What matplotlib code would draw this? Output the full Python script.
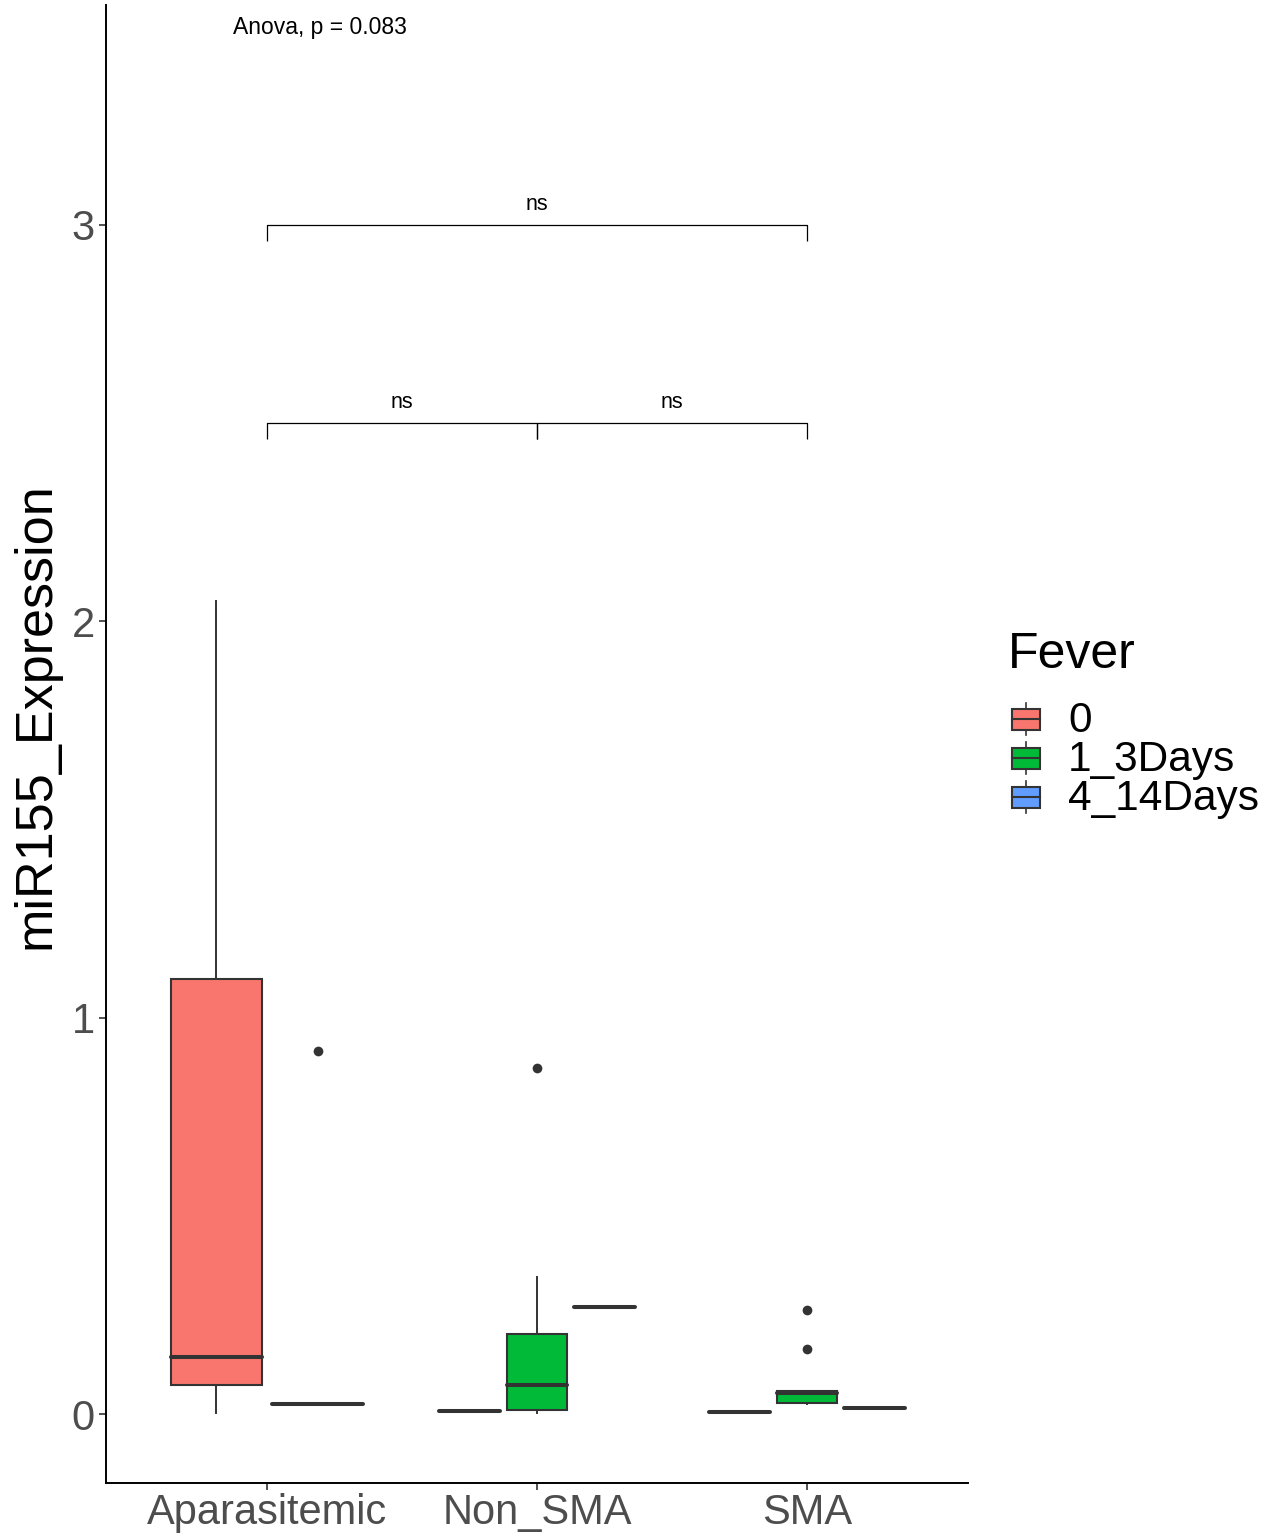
import matplotlib
matplotlib.use("Agg")
import matplotlib.pyplot as plt
from matplotlib.patches import Rectangle
from matplotlib.lines import Line2D

plt.rcParams["font.family"] = ["Liberation Sans", "DejaVu Sans"]

# ---- data -------------------------------------------------------------
groups = ["Aparasitemic", "Non_SMA", "SMA"]
fever_levels = ["0", "1_3Days", "4_14Days"]
fever_colors = ["#F8766D", "#00BA38", "#619CFF"]

box_group = ["Aparasitemic", "Aparasitemic", "Non_SMA", "Non_SMA", "Non_SMA", "SMA", "SMA", "SMA"]
box_fever = ["0", "1_3Days", "0", "1_3Days", "4_14Days", "0", "1_3Days", "4_14Days"]
whisker_low = [0.003, 0.026, 0.008, 0.002, 0.270, 0.004, 0.025, 0.016]
q1 = [0.072, 0.026, 0.008, 0.009, 0.270, 0.004, 0.028, 0.016]
median = [0.143, 0.026, 0.008, 0.073, 0.270, 0.004, 0.053, 0.016]
q3 = [1.098, 0.026, 0.008, 0.202, 0.270, 0.004, 0.059, 0.016]
whisker_high = [2.051, 0.026, 0.008, 0.345, 0.270, 0.004, 0.059, 0.016]
outliers = [[], [0.916], [], [0.873], [], [], [0.262, 0.165], []]

comparisons = [("Aparasitemic", "Non_SMA"), ("Non_SMA", "SMA"), ("Aparasitemic", "SMA")]
comparison_y = [2.5, 2.5, 3.0]
comparison_label = ["ns", "ns", "ns"]
anova_label = "Anova, p = 0.083"

# ---- figure -----------------------------------------------------------
W, H, DPI = 1270, 1539, 100
fig = plt.figure(figsize=(W / DPI, H / DPI), dpi=DPI)
ax = fig.add_axes([106 / W, 1 - 1483 / H, (968 - 106) / W, (1483 - 5) / H])

dark = "#333333"
dodge_total = 0.75
for i, (g, f) in enumerate(zip(box_group, box_fever)):
    members = [k for k, gg in enumerate(box_group) if gg == g]
    n = len(members)
    slot = dodge_total / n
    j = members.index(i)
    pos = groups.index(g) + 1 - dodge_total / 2 + slot * (j + 0.5)
    stats = [dict(whislo=whisker_low[i], q1=q1[i], med=median[i], q3=q3[i],
                  whishi=whisker_high[i], fliers=outliers[i])]
    color = fever_colors[fever_levels.index(f)]
    ax.bxp(stats, positions=[pos], widths=slot * 0.9, patch_artist=True,
           showcaps=False, manage_ticks=False,
           boxprops=dict(facecolor=color, edgecolor=dark, linewidth=1.5),
           whiskerprops=dict(color=dark, linewidth=1.4),
           medianprops=dict(color=dark, linewidth=2.9, solid_capstyle="round"),
           flierprops=dict(marker="o", markerfacecolor=dark, markeredgewidth=0,
                           markersize=7))

# significance brackets
tick_drop = 0.04
for (a, b), y, lab in zip(comparisons, comparison_y, comparison_label):
    x1, x2 = groups.index(a) + 1, groups.index(b) + 1
    ax.plot([x1, x1, x2, x2], [y - tick_drop, y, y, y - tick_drop],
            color="black", linewidth=0.9, solid_capstyle="butt")
    ax.text((x1 + x2) / 2, y + 0.038, lab, ha="center", va="baseline", fontsize=15.5)

ax.text(0.874, 3.482, anova_label, ha="left", va="baseline", fontsize=16.5)

# axes styling
ax.set_xlim(0.404, 3.596)
ax.set_ylim(-0.174, 3.555)
ax.set_xticks(range(1, len(groups) + 1))
ax.set_xticklabels(groups)
ax.set_yticks([0, 1, 2, 3])
ax.set_yticklabels(["0", "1", "2", "3"])
for s in ["top", "right"]:
    ax.spines[s].set_visible(False)
for s in ["left", "bottom"]:
    ax.spines[s].set_linewidth(1.4)
    ax.spines[s].set_color("black")
ax.tick_params(axis="both", length=5, width=1.2, color=dark, labelcolor="#4D4D4D",
               labelsize=30)
ax.tick_params(axis="x", pad=2)
ax.tick_params(axis="y", pad=3)
ax.set_ylabel("miR155_Expression", fontsize=37.5, color="black")
ax.yaxis.set_label_coords(-0.053, 0.519)

# legend drawn in pixel coordinates
lax = fig.add_axes([990 / W, 1 - 820 / H, 280 / W, 200 / H])
lax.set_xlim(990, 1270)
lax.set_ylim(820, 620)
lax.axis("off")
lax.text(1008, 668, "Fever", ha="left", va="baseline", fontsize=36)
row_y = [719, 758, 797]
for lvl, col, yc in zip(fever_levels, fever_colors, row_y):
    lax.add_line(Line2D([1026, 1026], [yc - 16, yc + 16], color=dark, linewidth=1.2,
                        zorder=1))
    lax.add_patch(Rectangle((1012, yc - 10.5), 28, 21, facecolor=col,
                            edgecolor=dark, linewidth=1.5, zorder=2))
    lax.add_line(Line2D([1012, 1040], [yc, yc], color=dark, linewidth=1.5, zorder=3))
    lax.text(1068, yc + 2, lvl, ha="left", va="center", fontsize=30.5)

fig.savefig("out.png", dpi=DPI)
